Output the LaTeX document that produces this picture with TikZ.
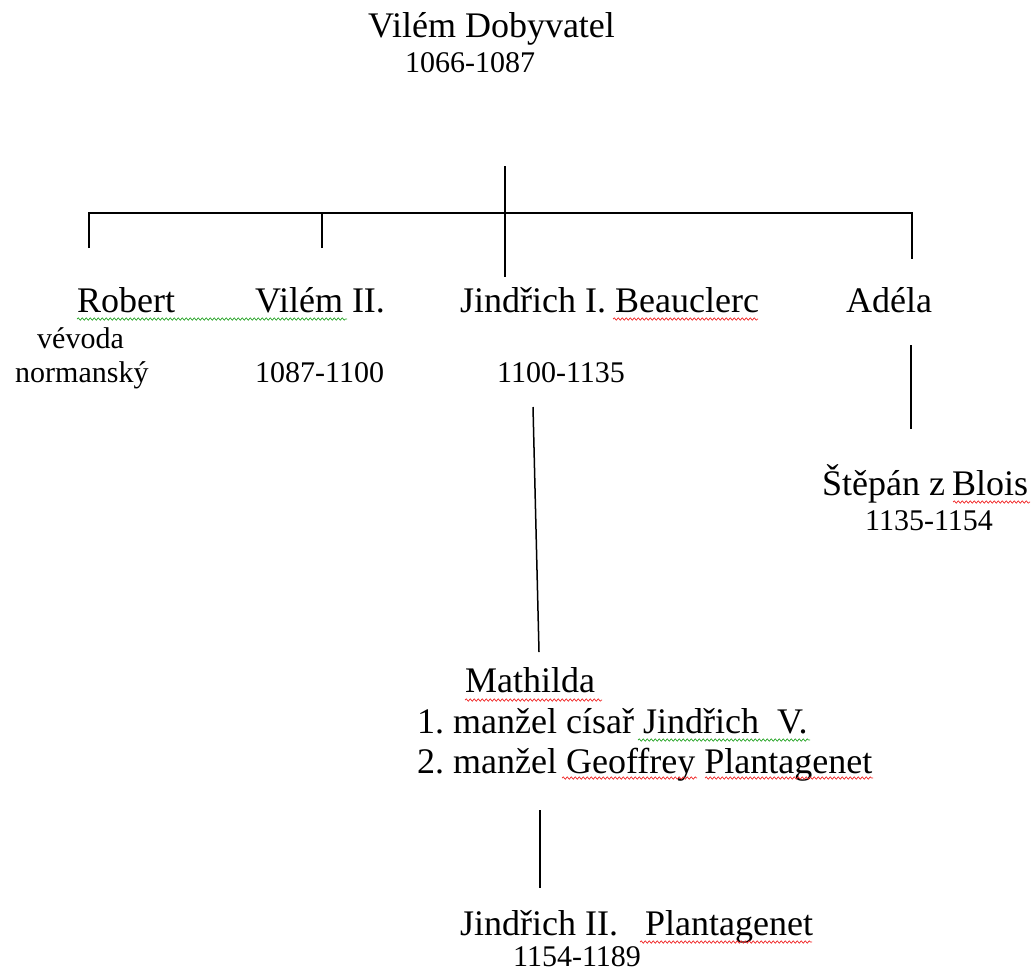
\documentclass[tikz,border=0pt]{standalone}
\usepackage{fontspec}
\setmainfont{Liberation Serif}
\usetikzlibrary{decorations.pathmorphing}
\definecolor{zelena}{RGB}{40,165,40}
\definecolor{cervena}{RGB}{240,40,40}
\frenchspacing
\tikzset{
  jmeno/.style={anchor=base west, inner sep=0pt, font=\fontsize{36}{40}\selectfont},
  roky/.style={anchor=base west, inner sep=0pt, font=\fontsize{30}{34}\selectfont},
  cara/.style={line width=1.5pt},
  vlnka/.style={decorate, decoration={snake, amplitude=1.2pt, segment length=4pt}, line width=0.7pt}
}
\begin{document}
\begin{tikzpicture}[x=1pt,y=-1pt]
                \useasboundingbox (0,0) rectangle (1035,975);

                % Vilém Dobyvatel
                \node[jmeno] (vilem) at (368,37) {Vilém Dobyvatel};
                \node[roky] (vilemR) at (405,72) {1066-1087};

                % Děti
                \node[jmeno] (robert) at (77,312) {Robert};
                \node[roky] (vevoda) at (37,348) {vévoda};
                \node[roky] (norm) at (15,382) {normanský};

                \node[jmeno] (vilem2) at (255,312) {Vilém II.};
                \node[roky] (vilem2R) at (255,382) {1087-1100};

                \node[jmeno] (jindrich) at (460,312) {Jindřich I. Beauclerc};
                \node[roky] (jindrichR) at (497,382) {1100-1135};

                \node[jmeno] (adela) at (846,312) {Adéla};

                % Vnuci
                \node[jmeno] (stepan) at (822,495) {Štěpán z\hspace{-2pt} Blois};
                \node[roky] (stepanR) at (865,530) {1135-1154};

                \node[jmeno] (mathilda) at (465,692) {Mathilda};
                \node[jmeno] (manzel1) at (417,733) {1. manžel císař Jindřich~ V.};
                \node[jmeno] (manzel2) at (417,773) {2. manžel Geoffrey Plantagenet};

                \node[jmeno] (jindrich2) at (460,935) {Jindřich II.~~ Plantagenet};
                \node[roky] (jindrich2R) at (513,966) {1154-1189};

                % Čáry
                \coordinate (kmenA) at (505,166);
                \coordinate (kmenB) at (505,277);
                \coordinate (l1) at (89,248);
                \coordinate (l2) at (322,248);
                \coordinate (l4) at (912,259);
                \draw[cara] (kmenA) -- (kmenB);
                \draw[cara] (l1) |- (l4 |- 0,213) -- (l4);
                \draw[cara] (l2) -- (l2 |- 0,213);

                \coordinate (jA) at (533,407);
                \coordinate (jB) at (539,652);
                \draw[cara] (jA) -- (jB);

                \coordinate (aA) at (911,345);
                \coordinate (aB) at (911,429);
                \draw[cara] (aA) -- (aB);

                \coordinate (mA) at (540,810);
                \coordinate (mB) at (540,888);
                \draw[cara] (mA) -- (mB);

                % Podtržení
                \draw[vlnka, zelena] (77,319) -- (347,319);
                \draw[vlnka, cervena] (613,319) -- (758,319);
                \draw[vlnka, cervena] (953,502) -- (1030,502);
                \draw[vlnka, cervena] (465,700) -- (602,700);
                \draw[vlnka, zelena] (638,740) -- (810,740);
                \draw[vlnka, cervena] (562,778) -- (697,778);
                \draw[vlnka, cervena] (705,778) -- (873,778);
                \draw[vlnka, cervena] (640,942) -- (812,942);

\end{tikzpicture}
\end{document}
